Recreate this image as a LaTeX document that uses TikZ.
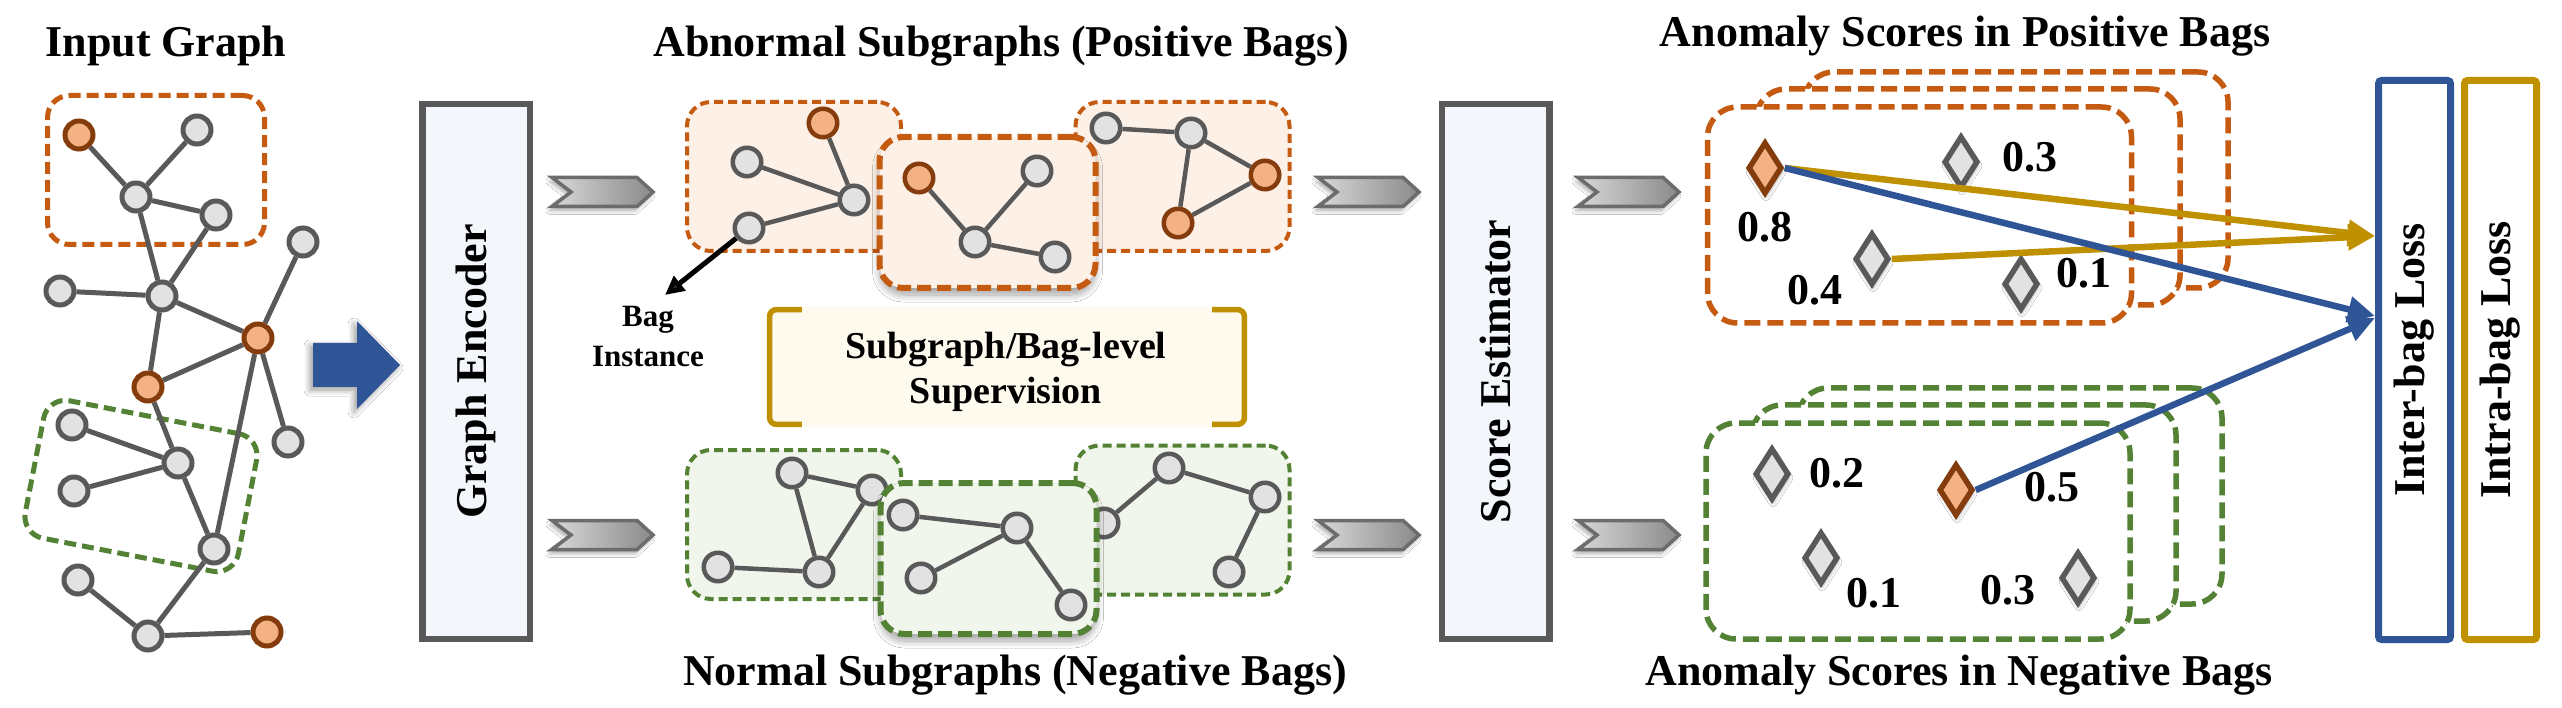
\documentclass[tikz,border=0pt]{standalone}
\usepackage{fontspec}
\setmainfont{Liberation Serif}
\usetikzlibrary{shadows,shadows.blur,arrows.meta,shapes.geometric}
\definecolor{og}{HTML}{C55A11}
\definecolor{ogfill}{HTML}{FDF0E6}
\definecolor{gr}{HTML}{548235}
\definecolor{grfill}{HTML}{F1F6EC}
\definecolor{nodegray}{HTML}{E2E2E2}
\definecolor{edgegray}{HTML}{595959}
\definecolor{ornode}{HTML}{F4B183}
\definecolor{orbord}{HTML}{843C0C}
\definecolor{blu}{HTML}{2F5597}
\definecolor{gold}{HTML}{BF9000}
\definecolor{boxfill}{HTML}{F3F6FB}
\definecolor{supfill}{HTML}{FFFAEE}
\definecolor{chevb}{HTML}{6E6B6B}
\definecolor{chevl}{HTML}{D8D8D8}
\definecolor{chevr}{HTML}{8A8A8A}
\begin{document}
\begin{tikzpicture}[x=1pt,y=-1pt,
  gn/.style={circle, draw=edgegray, fill=nodegray, line width=5pt, minimum size=28pt, inner sep=0pt},
  on/.style={gn, draw=orbord, fill=ornode},
  sgn/.style={gn, line width=4.5pt, minimum size=28.5pt},
  son/.style={on, line width=4.5pt, minimum size=28.5pt},
  ge/.style={draw=edgegray, line width=5pt},
  sge/.style={draw=edgegray, line width=4.5pt},
  ttl/.style={font=\fontsize{44}{50}\selectfont\bfseries, anchor=base, inner sep=0pt},
  lbl/.style={font=\fontsize{44}{50}\selectfont\bfseries, inner sep=0pt},
  rot/.style={font=\fontsize{44}{50}\selectfont\bfseries, rotate=90, inner sep=0pt},
  tallbox/.style={draw=edgegray, fill=boxfill, line width=6.5pt, minimum width=107.5pt, minimum height=534.5pt, inner sep=0pt},
  lossbox/.style={line width=7pt, minimum width=72pt, minimum height=559pt, rounded corners=3pt, inner sep=0pt},
  inbox/.style={line width=5pt, dash pattern=on 12pt off 6pt, rounded corners=22pt, inner sep=0pt},
  posbag/.style={draw=og, fill=ogfill, line width=4pt, dash pattern=on 9pt off 5pt, rounded corners=24pt, minimum width=214pt, minimum height=149pt, inner sep=0pt},
  negbag/.style={posbag, draw=gr, fill=grfill},
  frontbag/.style={line width=6pt, dash pattern=on 14pt off 6pt, minimum width=216pt, minimum height=151pt,
     blur shadow={shadow xshift=0pt, shadow yshift=-7pt, shadow blur radius=7pt, shadow blur steps=10, shadow opacity=35}},
  rbag/.style={draw=og, fill=white, line width=5.5pt, dash pattern=on 16pt off 7pt, rounded corners=30pt, minimum width=424pt, minimum height=216pt, inner sep=0pt},
  rnbag/.style={rbag, draw=gr},
  dm/.style={diamond, draw=edgegray, fill=nodegray, line width=5.5pt, minimum width=34pt, minimum height=52pt, inner sep=0pt,
     blur shadow={shadow xshift=1pt, shadow yshift=-4pt, shadow blur radius=4pt, shadow blur steps=6, shadow opacity=30}},
  odm/.style={dm, draw=orbord, fill=ornode},
  garr/.style={draw=gold, line width=6.5pt, -{Triangle[length=27pt,width=25pt]}},
  barr/.style={draw=blu, line width=6.5pt, -{Triangle[length=27pt,width=25pt]}},
  chevron/.pic={\path[draw=chevb, line width=3.5pt, left color=chevl, right color=chevr,
     blur shadow={shadow xshift=-2pt, shadow yshift=-4pt, shadow blur radius=4pt, shadow blur steps=6, shadow opacity=35}]
     (0,-14.5) -- (85,-14.5) -- (101,0) -- (85,14.5) -- (0,14.5) -- (19,0) -- cycle;}
]
\path[fill=white] (0,0) rectangle (2562,708);
\useasboundingbox (0,0) rectangle (2562,708);

% ---------- titles ----------
\node[ttl] (t1) at (166,57) {Input Graph};
\node[ttl] (t2) at (1001,57) {Abnormal Subgraphs (Positive Bags)};
\node[ttl] (t3) at (1965,47) {Anomaly Scores in Positive Bags};
\node[ttl] (t4) at (1015,685) {Normal Subgraphs (Negative Bags)};
\node[ttl] (t5) at (1959,685) {Anomaly Scores in Negative Bags};

% ---------- input graph ----------
\node[inbox, draw=og, minimum width=217pt, minimum height=149pt] (inbox) at (156,170) {};
\node[inbox, draw=gr, minimum width=217pt, minimum height=140pt, rotate=-11] (gnbox) at (141,486) {};
\node[on] (n1) at (79,135) {};
\node[gn] (n2) at (197,130) {};
\node[gn] (n3) at (136,197) {};
\node[gn] (n4) at (216,215) {};
\node[gn] (n5) at (303,242) {};
\node[gn] (n6) at (60,291) {};
\node[gn] (n7) at (162,296) {};
\node[on] (n8) at (258,338) {};
\node[on] (n9) at (148,387) {};
\node[gn] (n10) at (72,425) {};
\node[gn] (n11) at (178,463) {};
\node[gn] (n12) at (288,442) {};
\node[gn] (n13) at (74,491) {};
\node[gn] (n14) at (214,549) {};
\node[gn] (n15) at (78,580) {};
\node[gn] (n16) at (148,636) {};
\node[on] (n17) at (267,632) {};
\foreach \a/\b in {n1/n3,n2/n3,n3/n4,n3/n7,n4/n7,n6/n7,n7/n8,n7/n9,n5/n8,n8/n9,n8/n12,n8/n14,n9/n11,n10/n11,n13/n11,n11/n14,n14/n16,n15/n16,n16/n17}
  \draw[ge] (\a) -- (\b);

% big blue arrow
\fill[blu, blur shadow={shadow xshift=-3pt, shadow yshift=-3pt, shadow blur radius=6pt, shadow blur steps=8, shadow opacity=40}]
  (313,343) -- (357,343) -- (357,321) -- (400,365) -- (357,409) -- (357,387) -- (313,387) -- cycle;

% ---------- encoder / estimator ----------
\node[tallbox] (enc) at (476,371.5) {};
\node[rot] (enctxt) at (enc.center) {Graph Encoder};
\node[tallbox] (est) at (1495.5,371.5) {};
\node[rot] (esttxt) at (est.center) {Score Estimator};

% chevrons
\pic at (552,192) {chevron};
\pic at (552,535) {chevron};
\pic at (1318,192) {chevron};
\pic at (1318,535) {chevron};
\pic at (1578,192) {chevron};
\pic at (1578,535) {chevron};

% ---------- positive bags ----------
\node[posbag] (pb1) at (794,176.5) {};
\node[son] (p1o) at (823,123) {};
\node[sgn] (p1a) at (747,162) {};
\node[sgn] (p1h) at (854,200) {};
\node[sgn] (p1b) at (749,228) {};
\draw[sge] (p1o) -- (p1h); \draw[sge] (p1a) -- (p1h); \draw[sge] (p1b) -- (p1h);

\node[posbag] (pb3) at (1182.5,176.5) {};
\node[sgn] (p3a) at (1106,128) {};
\node[sgn] (p3b) at (1191,133) {};
\node[son] (p3c) at (1265,175) {};
\node[son] (p3d) at (1178,223) {};
\draw[sge] (p3a) -- (p3b); \draw[sge] (p3b) -- (p3c); \draw[sge] (p3b) -- (p3d); \draw[sge] (p3d) -- (p3c);

\node[posbag, frontbag] (pb2) at (987.5,212.5) {};
\node[son] (p2o) at (919,178) {};
\node[sgn] (p2a) at (1037,171) {};
\node[sgn] (p2h) at (975,242) {};
\node[sgn] (p2b) at (1055,257) {};
\draw[sge] (p2o) -- (p2h); \draw[sge] (p2a) -- (p2h); \draw[sge] (p2h) -- (p2b);

% bag instance
\coordinate (bitip) at (665,295);
\draw[line width=5pt, -{Triangle[length=19pt,width=18pt]}] (p1b) -- (bitip);
\node[font=\fontsize{31}{40}\selectfont\bfseries, align=center, inner sep=0pt] (bitxt) at (648,337) {Bag\\Instance};

% supervision
\node[fill=supfill, rounded corners=8pt, minimum width=480pt, minimum height=120pt, inner sep=0pt] (sup) at (1007,367) {};
\draw[gold, line width=5.5pt, rounded corners=7pt]
  ([xshift=35pt,yshift=-2.75pt]sup.north west) -- ([xshift=2.75pt,yshift=-2.75pt]sup.north west) -- ([xshift=2.75pt,yshift=2.75pt]sup.south west) -- ([xshift=35pt,yshift=2.75pt]sup.south west);
\draw[gold, line width=5.5pt, rounded corners=7pt]
  ([xshift=-35pt,yshift=-2.75pt]sup.north east) -- ([xshift=-2.75pt,yshift=-2.75pt]sup.north east) -- ([xshift=-2.75pt,yshift=2.75pt]sup.south east) -- ([xshift=-35pt,yshift=2.75pt]sup.south east);
\node[font=\fontsize{38}{45}\selectfont\bfseries, align=center, inner sep=0pt] (suptxt) at (1006,372) {Subgraph/Bag-level\\Supervision};

% ---------- negative bags ----------
\node[negbag] (nb1) at (794,524.5) {};
\node[sgn] (q1a) at (792,473) {};
\node[sgn] (q1b) at (872,490) {};
\node[sgn] (q1c) at (819,572) {};
\node[sgn] (q1d) at (718,567) {};
\draw[sge] (q1a) -- (q1b); \draw[sge] (q1a) -- (q1c); \draw[sge] (q1b) -- (q1c); \draw[sge] (q1d) -- (q1c);

\node[negbag] (nb3) at (1182.5,520) {};
\node[sgn] (q3i) at (1104,523) {};
\node[sgn] (q3j) at (1169,468) {};
\node[sgn] (q3k) at (1265,497) {};
\node[sgn] (q3l) at (1229,572) {};
\draw[sge] (q3i) -- (q3j); \draw[sge] (q3j) -- (q3k); \draw[sge] (q3k) -- (q3l);

\node[negbag, frontbag] (nb2) at (988.5,558.5) {};
\node[sgn] (q2e) at (903,515) {};
\node[sgn] (q2f) at (1017,528) {};
\node[sgn] (q2g) at (921,578) {};
\node[sgn] (q2h) at (1071,605) {};
\draw[sge] (q2e) -- (q2f); \draw[sge] (q2g) -- (q2f); \draw[sge] (q2f) -- (q2h);

% ---------- right: score bags ----------
\node[rbag] (rp3) at (2016,180) {};
\node[rbag] (rp2) at (1968,197) {};
\node[rbag] (rp1) at (1919.5,215) {};
\node[rnbag] (rn3) at (2010,496) {};
\node[rnbag] (rn2) at (1964,513) {};
\node[rnbag] (rn1) at (1918,531) {};

\node[odm] (d08) at (1765,168) {};
\node[dm] (d03) at (1961,162) {};
\node[dm] (d04) at (1872,259) {};
\node[dm] (d01) at (2021,284) {};
\node[lbl] (l08) at (1765,227) {0.8};
\node[lbl] (l03) at (2030,157) {0.3};
\node[lbl] (l04) at (1815,290) {0.4};
\node[lbl] (l01) at (2084,273) {0.1};

\node[dm] (e02) at (1772,474) {};
\node[odm] (e05) at (1956,490) {};
\node[dm] (e01) at (1821,558) {};
\node[dm] (e03) at (2078,578) {};
\node[lbl] (m02) at (1837,473) {0.2};
\node[lbl] (m05) at (2052,487) {0.5};
\node[lbl] (m01) at (1874,593) {0.1};
\node[lbl] (m03) at (2008,590) {0.3};

% loss boxes
\node[lossbox, draw=blu] (inter) at (2414.5,360) {};
\node[rot] (intertxt) at (inter.center) {Inter-bag Loss};
\node[lossbox, draw=gold] (intra) at (2500.5,360) {};
\node[rot] (intratxt) at (intra.center) {Intra-bag Loss};

% connectors
\draw[garr] (d08.east) -- (inter.west |- 0,236);
\draw[garr] (d04.east) -- (inter.west |- 0,236);
\draw[barr] (d08.east) -- (inter.west |- 0,316);
\draw[barr] (e05.east) -- (inter.west |- 0,318);
\end{tikzpicture}
\end{document}
